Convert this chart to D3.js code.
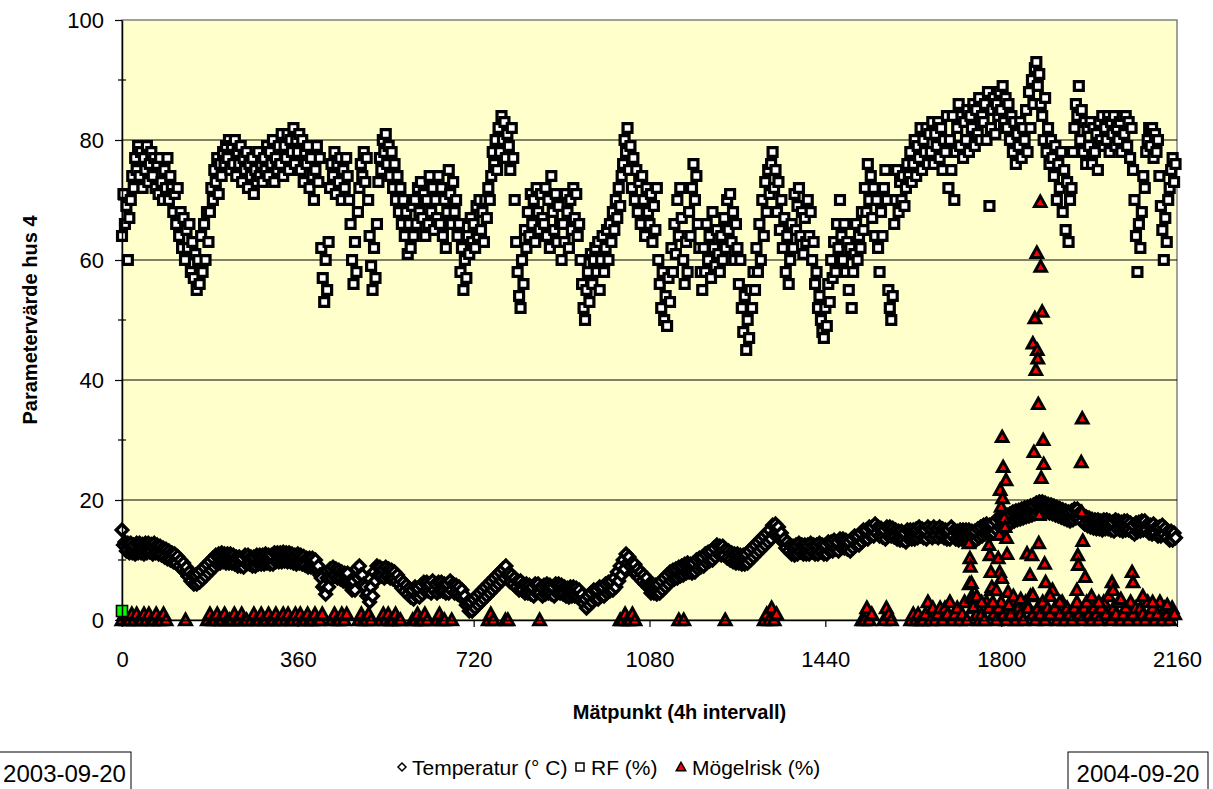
<!DOCTYPE html>
<html><head><meta charset="utf-8">
<script src="https://cdn.jsdelivr.net/npm/d3@7"></script>
<style>
body{margin:0;background:#fff;}
svg{display:block;font-family:"Liberation Sans",Arial,sans-serif;}
</style>
</head><body>
<svg id="c" width="1213" height="789"></svg>
<script>
// Spacing (in Mätpunkt units) of the sampled series
const STEP = 3;       // RF and Temperatur
const MOLD_STEP = 5;  // Mögelrisk

// RF (%) sampled every STEP measurement points
const rf = [
64,71,66,69,60,67,70,74,72,77,75,79, 74,78,72,77,75,79,73,76,78,74,77,72, 76,71,77,73,70,75,72,77,70,74,72,68,
71,66,72,64,68,62,67,60,65,62,66,58, 63,57,61,55,60,56,64,58,66,60,68,63, 68,72,70,75,73,77,71,76,74,78,76,79,
77,80,75,79,76,80,74,78,76,79,73,77, 75,78,72,76,74,77,71,75,73,78,74,76, 73,77,75,79,74,78,76,80,73,77,75,79,
76,81,74,79,77,81,75,80,78,82,76,80, 78,81,75,80,73,78,76,79,72,77,74,70, 75,79,73,77,62,57,53,60,55,63,72,76,
74,78,71,76,73,77,70,75,72,77,74,70, 66,60,56,63,58,68,72,76,74,78,73,77, 70,64,59,55,62,57,66,73,77,75,80,78,
81,76,79,74,78,72,76,70,74,68,72,66, 70,64,68,61,66,62,69,64,70,66,72,68, 73,67,71,64,70,66,74,68,72,65,70,67,
74,66,72,64,70,62,68,75,71,66,73,68, 70,64,66,58,62,55,60,57,64,61,67,63, 66,62,69,64,70,65,68,63,70,67,72,70,
74,78,76,80,75,82,78,84,80,83,77,81, 79,75,82,77,70,63,58,54,52,60,56,65, 62,68,64,71,66,70,63,72,68,65,71,67,
66,72,64,70,62,74,68,65,71,63,69,66, 60,66,63,71,68,62,70,65,72,67,71,64, 66,60,56,52,50,55,58,53,61,56,60,62,
58,63,55,60,64,58,62,65,60,66,63,68, 65,70,67,72,69,74,76,80,78,82,75,79, 72,77,70,75,68,73,66,74,70,64,72,68,
66,71,63,69,65,72,60,56,52,58,50,54, 49,57,53,62,58,66,61,70,64,72,67,60, 56,63,58,68,64,72,76,70,74,66,62,58,
55,62,58,66,60,64,57,68,62,59,65,61, 58,64,60,67,62,70,65,71,63,68,60,66, 62,56,60,52,48,54,45,50,47,55,52,58,
55,62,58,66,60,70,64,73,68,75,71,76, 78,72,75,68,73,65,70,62,67,58,64,56, 60,66,62,71,65,69,72,64,68,61,67,63,
70,64,68,60,63,56,58,52,54,50,48,47, 52,49,56,53,60,57,63,58,66,62,70,64, 60,66,58,63,55,62,52,58,61,66,60,64,
62,68,65,72,68,76,70,74,67,72,64,70, 62,58,68,64,72,75,70,55,52,50,54,66, 70,75,68,73,70,74,69,72,76,74,78,73,
76,80,74,79,77,82,75,80,78,82,76,81, 78,83,76,81,79,83,77,82,75,80,78,84, 72,80,75,84,70,78,82,86,79,84,77,83,
80,85,78,84,82,86,79,85,81,87,80,84, 83,86,80,88,69,82,85,87,81,86,84,88, 85,89,83,87,82,86,80,84,78,83,76,81,
79,83,77,82,80,85,78,88,82,90,86,92, 93,89,91,86,84,80,87,78,82,76,80,77, 74,79,70,76,72,78,68,75,65,73,63,70,
72,78,82,86,84,89,80,85,78,83,76,82, 79,83,76,82,78,81,75,83,80,84,79,82, 80,84,78,83,81,84,79,82,80,83,78,84,
81,84,79,83,77,82,75,70,64,58,66,62, 68,74,72,78,80,82,79,82,77,81,78,80, 74,69,65,60,67,63,70,72,75,77,73,76
];

// Temperatur (° C) sampled every STEP measurement points (day / night pairs)
const temperature = [
15,12.5,13,11.5,12.8,11.2,12.8,11.2,12.5,11,12.8,11.2,
12.8,11.2,12.6,11,12.8,11.2,12.8,11.3,12.6,11,12.8,11.2,
12.5,11,12.3,10.8,12,10.5,11.8,10.2,11.5,10,11.2,9.7,
11,9.5,10.6,9,10,8.5,9.5,8,8.8,7.3,8,6.5,
7.5,6,7.5,6,7.8,6.3,8.3,6.8,8.8,7.3,9.3,7.8,
9.8,8.3,10.3,8.8,10.8,9.3,11,9.5,11.2,9.7,11,9.5,
11,9.5,11,9.5,10.8,9.3,10.5,9,10.5,9,10.3,8.8,
10.8,9.3,10.8,9.3,10.5,9,10.5,9,10.8,9.3,10.8,9.3,
10.8,9.3,11,9.5,10.8,9.3,10.8,9.3,11.2,9.7,11.2,9.7,
11.2,9.7,11.3,9.8,11.2,9.7,11.2,9.7,11,9.5,10.8,9.3,
11,9.5,10.8,9.3,10.6,9.1,10.3,8.8,10.3,8.8,10.3,8.8,
10,8.5,9,7.5,7,5.5,5.8,4.3,7,5.5,8.5,7,
8.8,7.3,8.5,7,8.3,6.8,8,6.5,7.8,6.3,7.8,6.3,
6.5,5,6.5,5,8.5,7,9,7.5,7.5,6,5.5,4,
4.5,3,5.5,4,8,6.5,9,7.5,8.8,7.3,8.5,7,
8.8,7.3,8.5,7,8.3,6.8,8,6.5,7.5,6,6.8,5.3,
6.3,4.8,5.8,4.3,5.3,3.8,5,3.5,5.5,4,5.3,3.8,
5.8,4.3,6.3,4.8,6.3,4.8,6,4.5,6.5,5,6,4.5,
6.3,4.8,6.3,4.8,6,4.5,6,4.5,6.5,5,6,4.5,
5.8,4.3,5.5,4,5,3.5,4,2.5,3,1.5,3,1.5,
3.5,2,4,2.5,4.5,3,5,3.5,5.5,4,6,4.5,
6.5,5,7,5.5,7.5,6,8,6.5,8.5,7,9,7.5,
7.8,6.3,7.5,6,7,5.5,6.5,5,6.5,5,6,4.5,
6,4.5,5.8,4.3,5.5,4,6,4.5,6,4.5,5.5,4,
5.8,4.3,6,4.5,5.8,4.3,5.5,4,6,4.5,6,4.5,
5.8,4.3,5.5,4,5.3,3.8,5.5,4,5.5,4,5.3,3.8,
5,3.5,4.3,2.8,3.5,2,4,2.5,4.5,3,5,3.5,
5,3.5,5.5,4,5.5,4,6,4.5,6.3,4.8,6.5,5,
7,5.5,8,6.5,9,7.5,10,8.5,11,9.5,10.5,9,
9.5,8,9.3,7.8,8.5,7,8,6.5,7.5,6,7,5.5,
6,4.5,6,4.5,5.8,4.3,6,4.5,6.5,5,7,5.5,
7.5,6,8,6.5,8.3,6.8,8.5,7,8.8,7.3,9,7.5,
9.3,7.8,9.5,8,9.3,7.8,9.5,8,10,8.5,10.3,8.8,
10.5,9,11,9.5,11.3,9.8,11.5,10,12,10.5,12.5,11,
12.3,10.8,12.3,10.8,11.8,10.3,11.5,10,11.2,9.7,11,9.5,
11,9.5,10.8,9.3,10.8,9.3,11,9.5,11.5,10,12,10.5,
12.5,11,13,11.5,13.5,12,14,12.5,14.5,13,15,13.5,
15.8,14.3,16,14.5,15.5,14,14.5,13,13.5,12,13,11.5,
12.5,11,12.3,10.8,12.5,11,12.8,11.3,12.5,11,12.5,11,
12.5,11,12.8,11.3,12.5,11,12.5,11,12.8,11.3,12.5,11,
12.5,11,13,11.5,13,11.5,13.3,11.8,13,11.5,13.5,12,
13.5,12,13.3,11.8,13,11.5,13.5,12,14,12.5,14,12.5,
14.5,13,15,13.5,15,13.5,15.5,14,15.5,14,16,14.5,
15.5,14,15.3,13.8,15,13.5,15.5,14,15.5,14,15.3,13.8,
15,13.5,14.8,13.3,14.8,13.3,14.5,13,15,13.5,15,13.5,
15,13.5,15.2,13.7,15.5,14,15.2,13.7,15,13.5,15.5,14,
15.2,13.7,15.5,14,15.2,13.7,15.5,14,15.2,13.7,15,13.5,
15,13.5,15.5,14,15,13.5,14.8,13.3,15,13.5,15,13.5,
15,13.5,15,13.5,14.8,13.3,14.8,13.3,15.2,13.7,15.5,14,
15.8,14.3,16,14.5,15.8,14.3,16,14.5,16.5,15,17,15.5,
17,15.5,17.2,15.7,17.5,16,17.7,16.2,18,16.5,18.2,16.7,
18.3,16.8,18.5,17,18.7,17.2,18.8,17.3,19,17.5,19.2,17.7,
19.5,18,19.7,18.2,19.7,18.2,19.5,18,19.3,17.8,19.2,17.7,
19,17.5,18.8,17.3,18.6,17.1,18.4,16.9,18.2,16.7,18,16.5,
18.2,16.7,18.5,17,18.5,17,18,16.5,17.5,16,17.2,15.7,
17,15.5,16.8,15.3,16.7,15.2,16.7,15.2,16.5,15,16.7,15.2,
16.7,15.2,16.5,15,16.3,14.8,16.7,15.2,16.5,15,16.3,14.8,
16.5,15,16.5,15,16.2,14.7,15.8,14.3,16.2,14.7,16.3,14.8,
16.5,15,16.5,15,16,14.5,15.8,14.3,16,14.5,15.5,14,
15.5,14,15.8,14.3,15.3,13.8,14.8,13.3,14.8,13.3,14.5,13.7
];

// Mögelrisk (%) sampled every MOLD_STEP measurement points (null = no value)
const N = null;
const moldRisk = [
0,1,0,0,1,0,1,0, 0,1,0,1,0,0,1,0, 0,1,0,N,N,N,N,N, N,N,0,N,N,N,N,N,
N,N,N,0,1,0,0,1, 0,0,1,0,0,0,1,0, 0,1,0,0,N,0,1,0, 0,1,0,0,1,0,0,1,
0,0,1,0,1,0,0,1, 0,1,0,0,1,0,0,1, 0,0,1,N,N,N,0,1, 0,0,1,0,1,N,N,N,
N,0,1,0,0,1,0,N, N,N,0,1,0,1,0,0, 1,0,0,N,N,N,N,0, 0,1,0,0,1,0,N,N,
N,0,1,0,0,N,N,0, N,N,N,N,N,N,N,N, N,N,N,N,N,N,0,1, 0,N,N,N,N,0,0,N,
N,N,N,N,N,N,N,N, N,N,N,0,N,N,N,N, N,N,N,N,N,N,N,N, N,N,N,N,N,N,N,N,
N,N,N,N,N,N,N,N, N,N,N,N,0,0,1,0, 0,1,0,N,N,N,N,N, N,N,N,N,N,N,N,N,
N,N,N,N,0,N,0,N, N,N,N,N,N,N,N,N, N,N,N,N,N,N,N,0, N,N,N,N,N,N,N,N,
N,N,N,N,N,N,N,0, 1,0,2,0,1,N,N,N, N,N,N,N,N,N,N,N, N,N,N,N,N,N,N,N,
N,N,N,N,N,N,N,N, N,N,N,N,N,N,N,0, 0,2,0,1,N,N,N,N, 0,2,1,0,N,N,N,N,
N,N,N,0,1,0,1,0, 0,1,3,0,2,0,1,2, 0,2,1,3,0,1,2,0, 1,3,0,6,4,2,1,0,
1,0,3,2,5,1,0,2, 3,1,0,2,1,3,0,2, 1,0,3,2,4,1,0,2, 1,3,0,2,1,5,2,0,
1,3,0,2,1,0,2,3, 1,0,2,3,1,0,2,1, 0,2,3,1,4,0,2,1, 3,0,1,2,0,3,1,2,
0,2,1,0,3,1,2,0, 1,3,0,2,1,0,2,1
];

// Extra Mögelrisk points inside the peaks (measurement point, value)
const moldPeakX = [1734,1736,1737,1739,1741,1743, 1775,1777,1779,1781,1783,
  1794,1796,1797,1798,1800,1801,1802,1803,1804,1806,1808,1810,1811,1812,1814,1816,
  1853,1859,1863,1865,
  1865,1867,1869,1871,1873,1874,1875,1876,1877,1878,1880,1881,1882,1884,1886,1887,1889,1891,
  1955,1957,1958,1964,1965,1966,1967,1972, 2027,2029,2068,2070,
  1750,1760,1790,1825,1840,1900,1920,1985,2000,2045,2090,2110,2140];
const moldPeakY = [12.8,10.3,8.9,6.2,3.7,2.2, 12.5,10.8,8,5.5,3,
  10.3,14.2,8,21.7,18.9,7,30.5,20.3,25.5,17,15.5,23.3,13.7,11,4.7,2.5,
  11.1,7.5,10.8,4.2,
  46.1,28,50.3,41.7,61.2,45,43.6,36,12.8,17.5,69.7,58.9,23.7,51.4,30,26,9.4,6.3,
  5,10.8,9.2,26.3,18,33.6,13.2,7.2, 6.3,5,8,6.3,
  4,3,5,4,3.5,4,3,4,3,3.5,4,3,2.5];

// Single green marker at the start
const startX = [0], startY = [1.5];

const xTicks = [0,360,720,1080,1440,1800,2160];
const yTicks = [0,20,40,60,80,100];
const yMinor = [10,30,50,70,90];

const svg = d3.select('#c');
const x = d3.scaleLinear().domain([0,2160]).range([122,1177]);
const y = d3.scaleLinear().domain([0,100]).range([620,20]);

// plot area
svg.append('rect').attr('x',x(0)).attr('y',y(100)).attr('width',x(2160)-x(0)).attr('height',y(0)-y(100))
  .attr('fill','#FFFFCC').attr('stroke','#808080').attr('stroke-width',1.5);

// gridlines
svg.append('g').selectAll('line').data(yTicks.filter(v=>v>0&&v<100)).join('line')
  .attr('x1',x(0)).attr('x2',x(2160)).attr('y1',d=>y(d)).attr('y2',d=>y(d))
  .attr('stroke','#000').attr('stroke-width',1);

// symbols
const symDiamond = {draw(c,s){const r=Math.sqrt(s)/2;c.moveTo(0,-r);c.lineTo(r,0);c.lineTo(0,r);c.lineTo(-r,0);c.closePath();}};
const symSquare = {draw(c,s){const r=Math.sqrt(s)/2;c.rect(-r,-r,2*r,2*r);}};
const symTriangle = {draw(c,s){const r=Math.sqrt(s)/2;c.moveTo(0,-r);c.lineTo(r,r*0.8);c.lineTo(-r,r*0.8);c.closePath();}};

function drawSeries(xs, ys, sym, size, fill, sw){
  const pts = xs.map((xv,i)=>[xv,ys[i]]).filter(p=>p[1]!==null);
  svg.append('g').selectAll('path').data(pts).join('path')
    .attr('transform',d=>`translate(${x(d[0])},${y(d[1])})`)
    .attr('d',d3.symbol().type(sym).size(size))
    .style('fill',fill).style('stroke','#000').style('stroke-width',sw+'px').style('stroke-linejoin','miter');
}
const pointsX = rf.map((_,i)=>i*STEP);
const moldX = moldRisk.map((_,i)=>i*MOLD_STEP);
drawSeries(pointsX, temperature, symDiamond, 132, '#fff', 3.4);
drawSeries(pointsX, rf, symSquare, 80, '#fff', 3.2);
drawSeries(moldX, moldRisk, symTriangle, 140, '#ff0000', 3);
drawSeries(moldPeakX, moldPeakY, symTriangle, 132, '#ff0000', 3);
drawSeries(startX, startY, symSquare, 121, '#00ff00', 1.6);

// axes
const yAxis = svg.append('g').attr('transform',`translate(${x(0)},0)`)
  .call(d3.axisLeft(y).tickValues(yTicks).tickSize(7).tickPadding(11).tickSizeOuter(0).tickFormat(d3.format('d')));
const xAxis = svg.append('g').attr('transform',`translate(0,${y(0)})`)
  .call(d3.axisBottom(x).tickValues(xTicks).tickSize(7).tickPadding(24).tickSizeOuter(0).tickFormat(d3.format('d')));
[yAxis,xAxis].forEach(a=>{
  a.selectAll('text').attr('font-size',22).attr('fill','#000').attr('font-family','"Liberation Sans",Arial,sans-serif');
  a.selectAll('line').attr('stroke','#000').attr('stroke-width',1.2);
  a.select('.domain').attr('stroke','#000').attr('stroke-width',1.5);
});
svg.append('g').selectAll('line').data(yMinor).join('line')
  .attr('x1',x(0)-4).attr('x2',x(0)+4).attr('y1',d=>y(d)).attr('y2',d=>y(d))
  .attr('stroke','#000').attr('stroke-width',1.2);

// titles
svg.append('text').attr('x',(x(0)+x(2160))/2 + 30).attr('y',719).attr('text-anchor','middle')
  .attr('font-size',20).attr('font-weight','bold').text('Mätpunkt (4h intervall)');
svg.append('text').attr('transform',`translate(37,${(y(0)+y(100))/2}) rotate(-90)`).attr('text-anchor','middle')
  .attr('font-size',20).attr('font-weight','bold').text('Parametervärde hus 4');

// legend
const lg = svg.append('g');
const legendItems = [
  {label:'Temperatur (° C)', sym:symDiamond, size:64, fill:'#fff', mx:402, tx:412},
  {label:'RF (%)', sym:symSquare, size:64, fill:'#fff', mx:580, tx:591},
  {label:'Mögelrisk (%)', sym:symTriangle, size:90, fill:'#ff0000', mx:681, tx:692}
];
legendItems.forEach(it=>{
  lg.append('path').attr('transform',`translate(${it.mx},767)`).attr('d',d3.symbol().type(it.sym).size(it.size))
    .attr('fill',it.fill).attr('stroke','#000').attr('stroke-width',1.5);
  lg.append('text').attr('x',it.tx).attr('y',775).attr('font-size',21).text(it.label);
});

// date boxes
const dateBoxes = [{t:'2003-09-20', x0:-2, x1:131}, {t:'2004-09-20', x0:1068, x1:1208}];
dateBoxes.forEach(b=>{
  svg.append('rect').attr('x',b.x0).attr('y',752).attr('width',b.x1-b.x0).attr('height',40)
    .attr('fill','#fff').attr('stroke','#000').attr('stroke-width',1);
  svg.append('text').attr('x',(b.x0+b.x1)/2).attr('y',782).attr('text-anchor','middle')
    .attr('font-size',24).text(b.t);
});
</script>
</body></html>
